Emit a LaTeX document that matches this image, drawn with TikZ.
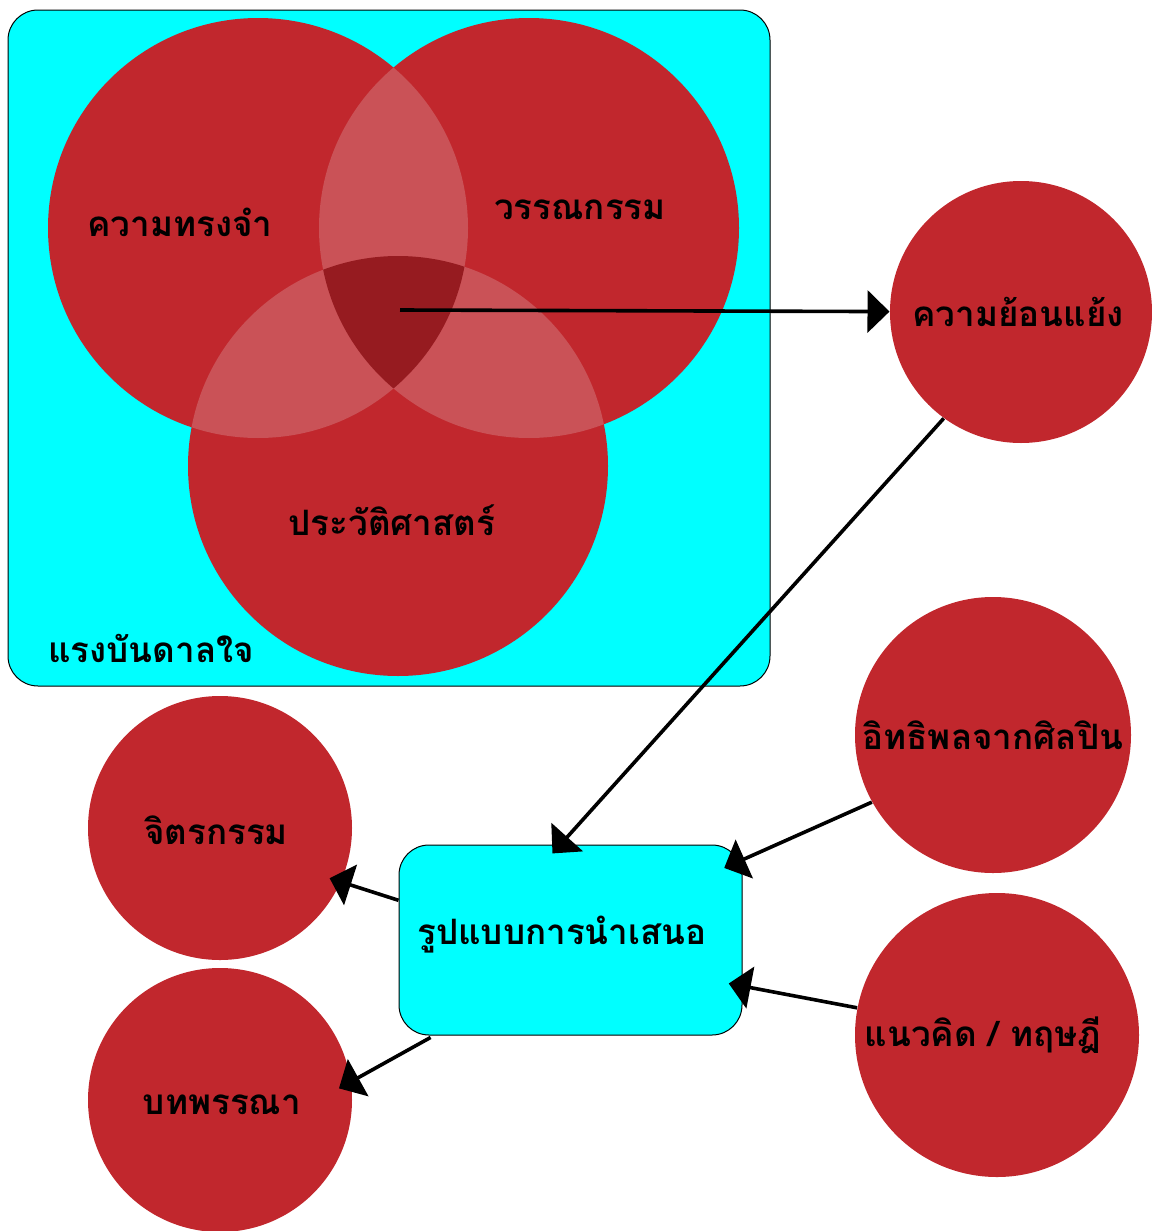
\documentclass[tikz,border=0pt]{standalone}
\usepackage{fontspec}
\usepackage{tikz}
\usetikzlibrary{arrows.meta}
\newfontfamily\thaifont[Script=Thai]{Loma}
\definecolor{vennred}{RGB}{193,39,45}
\definecolor{vennpair}{RGB}{202,82,87}
\definecolor{venncore}{RGB}{150,27,32}
\definecolor{boxcyan}{RGB}{0,255,255}
\tikzset{every picture/.style={line width=0.5pt}}
\tikzset{
  bubble/.style={circle, fill=vennred, inner sep=0pt},
  thai/.style={font=\thaifont\bfseries\fontsize{17.5}{20}\selectfont, inner sep=0.75pt},
  panel/.style={draw=black, fill=boxcyan, rounded corners=15pt, inner sep=0pt},
  bigarrow/.style={-{Triangle[length=11pt,width=21pt]}, line width=1.8pt}
}

\begin{document}
\begin{tikzpicture}[x=0.5pt,y=0.5pt,yscale=-1,xscale=1]
\useasboundingbox (0,0) rectangle (1151,1231);

%Shape: Rounded Rectangle [inspiration panel]
\node [panel, minimum width=381pt, minimum height=338pt] (inspire) at (389,348) {};

%Shape: Circle [venn]
\coordinate (mem) at (258,228);
\coordinate (lit) at (529,228);
\coordinate (hist) at (398,466);
\fill [vennred] (mem) circle (210);
\fill [vennred] (lit) circle (210);
\fill [vennred] (hist) circle (210);
%Shape: Overlaps [venn]
\begin{scope}
  \clip (mem) circle (210);
  \fill [vennpair] (lit) circle (210);
  \fill [vennpair] (hist) circle (210);
\end{scope}
\begin{scope}
  \clip (lit) circle (210);
  \fill [vennpair] (hist) circle (210);
\end{scope}
\begin{scope}
  \clip (mem) circle (210);
  \clip (lit) circle (210);
  \fill [venncore] (hist) circle (210);
\end{scope}
\coordinate (core) at (400,310);

%Shape: Rounded Rectangle [presentation]
\node [panel, minimum width=171.5pt, minimum height=95pt] (pres) at (570.5,940) {};

%Shape: Circle
\node [bubble, minimum size=131pt] (rev) at (1021,312) {};
%Shape: Circle
\node [bubble, minimum size=138pt] (infl) at (993,735) {};
%Shape: Circle
\node [bubble, minimum size=142pt] (idea) at (997,1035) {};
%Shape: Circle
\node [bubble, minimum size=132pt] (paint) at (220,828) {};
%Shape: Circle
\node [bubble, minimum size=132pt] (poem) at (220,1100) {};

%Straight Lines [arrows]
\draw [bigarrow] (core) -- (rev);
\draw [bigarrow, shorten >=-6pt] (rev.234) -- ([xshift=-5pt]pres.north);
\draw [bigarrow, shorten >=-10pt] (infl.209) -- (pres.25);
\draw [bigarrow, shorten >=-7pt] (idea.169) -- (pres.-15);
\draw [bigarrow, shorten >=-6pt] (pres.167) -- (paint.-24);
\draw [bigarrow, shorten <=2pt, shorten >=-7pt] (pres.215) -- (poem.8);

% Text Node
\node [thai] (memtext) at (180,222) {ความทรงจำ};
% Text Node
\node [thai] (littext) at (580,210) {วรรณกรรม};
% Text Node
\node [thai] (histtext) at (392,520) {ประวัติศาสตร์};
% Text Node
\node [thai, anchor=west] (inspiretext) at (46,648) {แรงบันดาลใจ};
% Text Node
\node [thai] (revtext) at (1018,312) {ความย้อนแย้ง};
% Text Node
\node [thai] (infltext) at (993,735) {อิทธิพลจากศิลปิน};
% Text Node
\node [thai] (ideatext) at (983,1035) {แนวคิด / ทฤษฎี};
% Text Node
\node [thai] (painttext) at (216,830) {จิตรกรรม};
% Text Node
\node [thai] (poemtext) at (222,1105) {บทพรรณา};
% Text Node
\node [thai] (prestext) at (562,935) {รูปแบบการนำเสนอ};

\end{tikzpicture}
\end{document}
